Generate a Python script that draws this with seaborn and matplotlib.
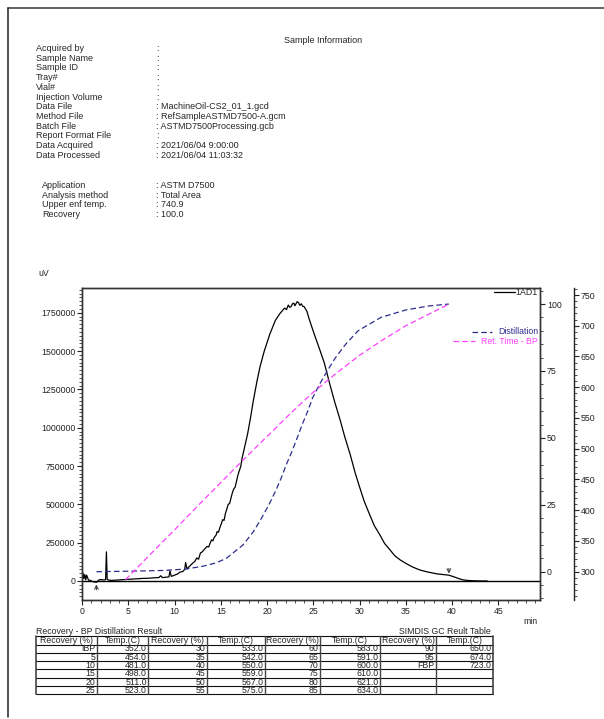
import matplotlib
matplotlib.use("Agg")
import numpy as np
import pandas as pd
import matplotlib.pyplot as plt
import seaborn as sns
from matplotlib.ticker import MultipleLocator, FuncFormatter

# ---------------- data ----------------
info_labels = ["Acquired by", "Sample Name", "Sample ID", "Tray#", "Vial#",
               "Injection Volume", "Data File", "Method File", "Batch File",
               "Report Format File", "Data Acquired", "Data Processed"]
info_values = ["", "", "", "", "", "", "MachineOil-CS2_01_1.gcd",
               "RefSampleASTMD7500-A.gcm", "ASTMD7500Processing.gcb", "",
               "2021/06/04 9:00:00", "2021/06/04 11:03:32"]
app_labels = ["Application", "Analysis method", "Upper enf temp.", "Recovery"]
app_values = ["ASTM D7500", "Total Area", "740.9", "100.0"]

chrom_time = [0.0, 0.1, 0.2, 0.3, 0.4, 0.5, 0.7, 0.9, 1.1, 1.3, 1.6, 1.8, 2.0, 2.3,
              2.55, 2.64, 2.72, 2.85, 3.1, 3.5, 4.0, 4.5, 4.9, 5.5, 6.0, 6.6, 7.2,
              7.8, 8.3, 8.5, 8.7, 9.1, 9.4, 9.5, 9.65, 10.0, 10.3, 10.6, 10.9, 11.1,
              11.2, 11.35, 11.6, 12.0, 12.2, 12.4, 12.6, 12.8, 13.0, 13.1, 13.3, 13.5,
              13.7, 13.8, 14.0, 14.15, 14.3, 14.5, 14.6, 14.75, 14.9, 15.05, 15.2,
              15.35, 15.5, 15.65, 15.8, 15.95, 16.1, 16.25, 16.4, 16.55, 16.7, 16.85,
              17.0, 17.15, 17.3, 17.6, 17.9, 18.2, 18.5, 18.9, 19.25, 19.7, 20.3,
              20.9, 21.4, 21.9, 22.1, 22.3, 22.45, 22.6, 22.75, 22.9, 23.0, 23.1,
              23.25, 23.4, 23.55, 23.7, 23.85, 24.0, 24.15, 24.3, 24.6, 25.1, 25.7,
              26.2, 26.8, 27.3, 27.9, 28.4, 29.0, 29.5, 30.0, 30.5, 31.1, 31.6, 32.2,
              32.7, 33.3, 33.8, 34.4, 35.0, 35.7, 36.5, 37.4, 38.4, 39.0, 39.65,
              40.3, 40.8, 41.2, 41.8, 42.5, 43.2, 43.8]
chrom_uv = [0, 52000, 15000, 42000, 8000, 38000, 6000, 4000, -3000, -6000, -8000,
            6000, 9000, 7000, 8000, 190000, 12000, 6000, 4000, 5000, 7000, 9000,
            11000, 13000, 15000, 17000, 18000, 21000, 22000, 34000, 22000, 25000,
            27000, 66000, 30000, 38000, 45000, 58000, 62000, 75000, 120000, 78000,
            95000, 118000, 128000, 150000, 142000, 183000, 190000, 198000, 212000,
            225000, 222000, 240000, 268000, 262000, 285000, 300000, 322000, 318000,
            348000, 372000, 400000, 395000, 440000, 468000, 500000, 505000, 540000,
            575000, 600000, 612000, 650000, 690000, 720000, 745000, 800000, 880000,
            960000, 1060000, 1170000, 1300000, 1400000, 1500000, 1610000, 1700000,
            1745000, 1780000, 1770000, 1800000, 1785000, 1790000, 1808000, 1812000,
            1795000, 1805000, 1822000, 1815000, 1798000, 1808000, 1792000, 1790000,
            1775000, 1760000, 1700000, 1610000, 1508000, 1420000, 1280000, 1170000,
            1050000, 940000, 822000, 710000, 613000, 520000, 431000, 360000, 300000,
            245000, 202000, 165000, 137000, 115000, 92000, 72000, 58000, 46000,
            42000, 38000, 25000, 14000, 7000, 3000, 1000, 0, 0]

dist_time = [1.56, 5.0, 8.0, 9.0, 11.2, 13.0, 14.5, 15.6, 17.4, 18.53, 19.4, 20.2,
             20.9, 21.53, 22.08, 22.7, 23.26, 23.8, 24.4, 24.93, 25.67, 26.5, 27.4,
             28.5, 29.83, 32.3, 35.0, 37.5, 39.65]
dist_recovery = [0, 0.2, 0.4, 0.5, 1.0, 2.0, 3.3, 5, 10, 15, 20, 25, 30, 35, 40, 45,
                 50, 55, 60, 65, 70, 75, 80, 85, 90, 95, 97.8, 99.3, 100]

rt_time = [4.7, 7.5, 10, 12.5, 15, 17.5, 20, 22.5, 25, 27.5, 30, 32.5, 35, 37.5, 39.65]
rt_bp = [287, 330, 368, 407, 445, 483, 520, 557, 592, 623, 652, 677, 700, 719, 735]

event_times = [1.56, 39.65]

table_recovery = ["IBP", "5", "10", "15", "20", "25", "30", "35", "40", "45", "50",
                  "55", "60", "65", "70", "75", "80", "85", "90", "95", "FBP"]
table_temp = [352.0, 454.0, 481.0, 498.0, 511.0, 523.0, 533.0, 542.0, 550.0, 559.0,
              567.0, 575.0, 583.0, 591.0, 600.0, 610.0, 621.0, 634.0, 650.0, 674.0,
              723.0]

# ---------------- style ----------------
sns.set_style("ticks")
plt.rcParams['font.family'] = ['Liberation Sans', 'DejaVu Sans']
plt.rcParams['font.size'] = 6.5

W, H = 604, 719
fig = plt.figure(figsize=(W / 100, H / 100), dpi=100)


def frac(l, t, r, b):
    return [l / W, 1 - b / H, (r - l) / W, (b - t) / H]


ax = fig.add_axes(frac(82, 288, 540, 600))
ax.set_facecolor('none')

chrom = pd.DataFrame({'time': chrom_time, 'uv': chrom_uv})
sns.lineplot(data=chrom, x='time', y='uv', ax=ax, color='black', linewidth=0.9,
             estimator=None, sort=False)
ax.axhline(0, color='black', lw=1.0, zorder=1)
ax.set_xlim(0, 49.5)
ax.set_ylim(-124000, 1911000)
ax.xaxis.set_major_locator(MultipleLocator(5))
ax.xaxis.set_minor_locator(MultipleLocator(1))
ax.yaxis.set_major_locator(MultipleLocator(250000))
ax.yaxis.set_minor_locator(MultipleLocator(25000))
ax.yaxis.set_major_formatter(FuncFormatter(lambda v, p: f"{int(round(v))}"))
ax.set_xlabel('')
ax.set_ylabel('')
for s in ax.spines.values():
    s.set_color('#333333')
    s.set_linewidth(1.0)
ax.tick_params(which='major', direction='out', length=3.5, width=0.8,
               labelsize=6.3, pad=1.5, colors='#222222')
ax.tick_params(which='minor', direction='out', length=2, width=0.6, colors='#333333')

# event markers
ax.annotate('', xy=(event_times[0], -4000), xytext=(event_times[0], -75000),
            arrowprops=dict(arrowstyle='->', color='#444444', lw=0.8))
ax.annotate('', xy=(event_times[1], 30000), xytext=(event_times[1], 100000),
            arrowprops=dict(arrowstyle='->', color='#444444', lw=0.8))

# recovery axis
ax2 = ax.twinx()
dist = pd.DataFrame({'time': dist_time, 'rec': dist_recovery})
sns.lineplot(data=dist, x='time', y='rec', ax=ax2, color='#2E2E8F', linewidth=0.9,
             linestyle=(0, (4.5, 2.5)), estimator=None, sort=False)
ax2.set_ylim(-10.57, 106)
ax2.yaxis.set_major_locator(MultipleLocator(25))
ax2.yaxis.set_minor_locator(MultipleLocator(5))
ax2.yaxis.set_major_formatter(FuncFormatter(lambda v, p: f"{int(round(v))}"))
ax2.set_ylabel('')
for s in ax2.spines.values():
    s.set_color('#333333')
    s.set_linewidth(1.0)
ax2.tick_params(which='major', direction='out', length=3.5, width=0.8,
                labelsize=6.3, pad=1.5, colors='#222222')
ax2.tick_params(which='minor', direction='out', length=2, width=0.6, colors='#333333')

# temperature axis
ax3 = ax.twinx()
ax3.spines['right'].set_position(('axes', (574 - 82) / (540 - 82)))
for k in ['top', 'left', 'bottom']:
    ax3.spines[k].set_visible(False)
ax3.spines['right'].set_color('#222222')
ax3.spines['right'].set_linewidth(1.0)
rt = pd.DataFrame({'time': rt_time, 'bp': rt_bp})
sns.lineplot(data=rt, x='time', y='bp', ax=ax3, color='#FF40FF', linewidth=0.9,
             linestyle=(0, (4.5, 2.5)), estimator=None, sort=False)
ax3.set_ylim(254, 761.4)
ax3.yaxis.set_major_locator(MultipleLocator(50))
ax3.yaxis.set_minor_locator(MultipleLocator(10))
ax3.yaxis.set_major_formatter(FuncFormatter(lambda v, p: f"{int(round(v))}"))
ax3.set_ylabel('')
ax3.tick_params(which='major', direction='out', length=3.5, width=0.8,
                labelsize=6.3, pad=1.5, colors='#222222')
ax3.tick_params(which='minor', direction='out', length=2, width=0.6, colors='#333333')

# ---------------- overlay (pixel coordinates) ----------------
ov = fig.add_axes([0, 0, 1, 1], zorder=10)
ov.set_xlim(0, W)
ov.set_ylim(H, 0)
ov.axis('off')
ov.patch.set_alpha(0)

# page frame
ov.plot([8, 604], [8, 8], color='#555555', lw=1.3)
ov.plot([8, 8], [8, 717], color='#222222', lw=1.1)

fs = 6.5
ov.text(323, 40.5, "Sample Information", ha='center', va='center', fontsize=fs)
for i, (lab, val) in enumerate(zip(info_labels, info_values)):
    y = 48.5 + i * 9.7
    ov.text(36, y, lab, ha='left', va='center', fontsize=fs)
    ov.text(156, y, ": " + val if val else ":", ha='left', va='center', fontsize=fs)
for i, (lab, val) in enumerate(zip(app_labels, app_values)):
    y = 186 + i * 9.45
    ov.text(42, y, lab, ha='left', va='center', fontsize=fs)
    ov.text(156, y, ": " + val, ha='left', va='center', fontsize=fs)

ov.text(38, 274, "uV", ha='left', va='center', fontsize=6.3)
ov.text(530, 622, "min", ha='center', va='center', fontsize=6.3)

# legends
ov.plot([494, 515], [292.3, 292.3], color='black', lw=0.9)
ov.text(538, 292.3, "1AD1", ha='right', va='center', fontsize=6.3)
ov.plot([472, 492], [331.7, 331.7], color='#2E2E8F', lw=0.9, linestyle=(0, (4.5, 2.5)))
ov.text(538, 331.7, "Distillation", ha='right', va='center', fontsize=6.3,
        color='#2E2E8F')
ov.plot([453, 475], [341, 341], color='#FF40FF', lw=0.9, linestyle=(0, (4.5, 2.5)))
ov.text(538, 341, "Ret. Time - BP", ha='right', va='center', fontsize=6.3,
        color='#FF40FF')

# table
tfs = 6.3
ov.text(36, 631.5, "Recovery - BP Distillation Result", ha='left', va='center', fontsize=tfs)
ov.text(491, 631.5, "SIMDIS GC Reult Table", ha='right', va='center', fontsize=tfs)
col_x = [36, 96.7, 148.3, 206.7, 265, 320, 380, 436, 493]
row_y = [636, 644.5] + [644.5 + 8.3 * (k + 1) for k in range(6)]
for y in row_y:
    ov.plot([col_x[0], col_x[-1]], [y, y], color='#111111', lw=0.8)
for j, x in enumerate(col_x):
    lw = 1.2 if j in (0, len(col_x) - 1) else 1.0
    ov.plot([x, x], [row_y[0], row_y[-1]], color='#444444', lw=lw)
for j in range(8):
    head = "Recovery (%)" if j % 2 == 0 else "Temp.(C)"
    ov.text((col_x[j] + col_x[j + 1]) / 2, (row_y[0] + row_y[1]) / 2 + 0.3, head,
            ha='center', va='center', fontsize=tfs)
for idx, (rec, tmp) in enumerate(zip(table_recovery, table_temp)):
    c = idx // 6
    r = idx % 6
    yc = (row_y[r + 1] + row_y[r + 2]) / 2 + 0.3
    ov.text(col_x[2 * c + 1] - 1.5, yc, rec, ha='right', va='center', fontsize=tfs)
    ov.text(col_x[2 * c + 2] - 1.5, yc, f"{tmp:.1f}", ha='right', va='center', fontsize=tfs)

fig.savefig("out.png", dpi=100)
